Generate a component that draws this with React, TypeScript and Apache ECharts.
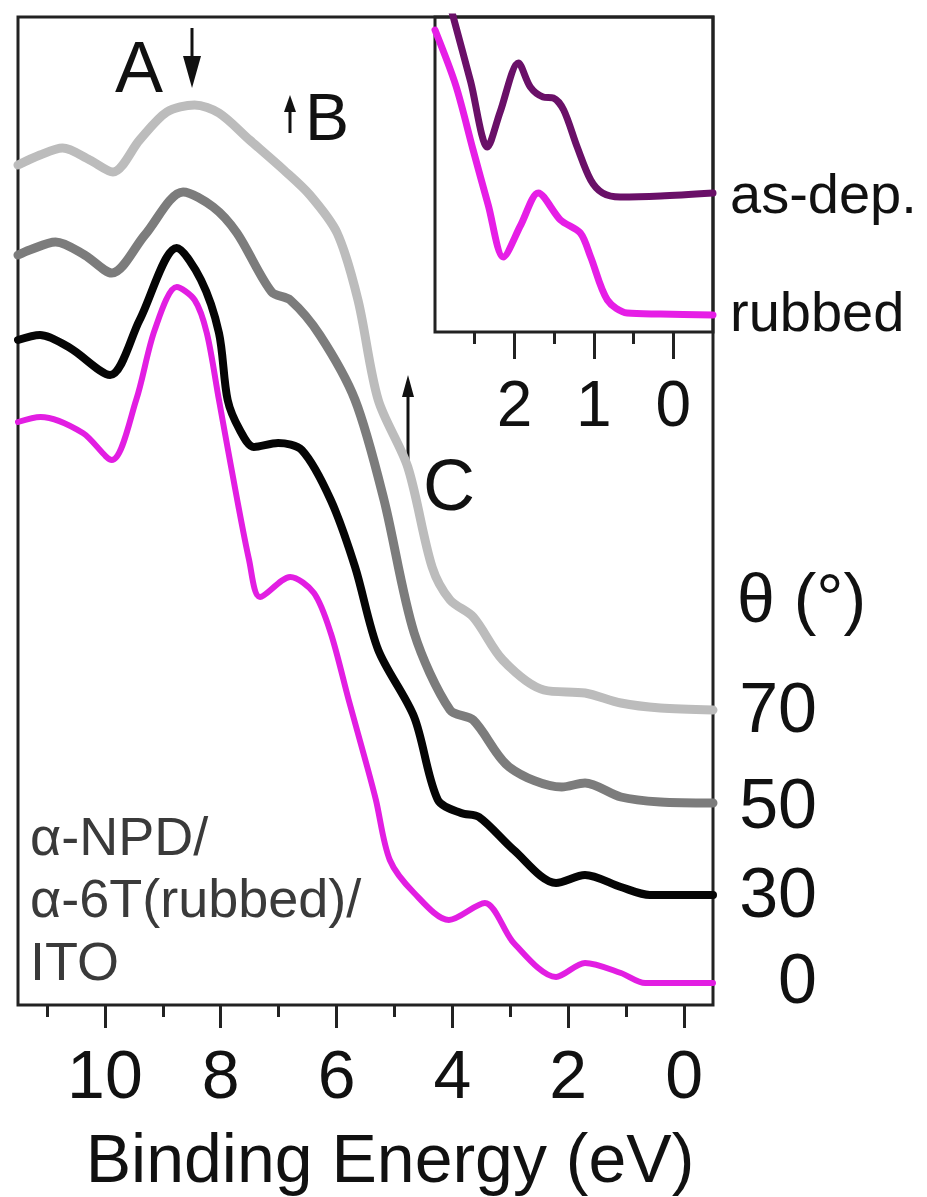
import React, { useEffect, useRef } from "react";
import * as echarts from "echarts";

// Main panel: binding energy (eV) vs. intensity (a.u., offset curves)
const theta70: [number, number][] = [
  [11.5, 84.0], [11.12, 85.0], [10.73, 85.7], [10.26, 84.5], [9.86, 83.3], [9.4, 86.5],
  [8.93, 89.3], [8.45, 90.0], [8.03, 89.2], [7.5, 86.5], [6.91, 83.5], [6.46, 81.0],
  [5.99, 77.2], [5.63, 70.5], [5.28, 60.5], [4.77, 53.8], [4.35, 43.8], [4.04, 40.5],
  [3.64, 38.8], [3.13, 34.5], [2.42, 31.5], [1.71, 31.2], [1.09, 30.2], [0.41, 29.7], [-0.5, 29.5],
];
const theta50: [number, number][] = [
  [11.5, 75.0], [11.3, 75.5], [10.85, 76.3], [10.35, 75.0], [9.88, 73.2], [9.31, 77.0],
  [8.65, 81.3], [8.13, 79.8], [7.72, 77.2], [7.12, 71.3], [6.8, 70.5], [6.29, 67.0],
  [5.68, 60.5], [5.18, 50.5], [4.66, 37.2], [4.04, 29.5], [3.64, 28.5], [3.02, 23.8],
  [2.11, 21.8], [1.71, 22.2], [1.09, 20.8], [0.41, 20.3], [-0.5, 20.2],
];
const theta30: [number, number][] = [
  [11.5, 66.5], [11.12, 67.0], [10.6, 65.7], [9.91, 63.0], [9.4, 68.5], [8.76, 75.7],
  [8.34, 72.5], [8.03, 67.2], [7.88, 60.5], [7.67, 57.5], [7.43, 55.8], [7.01, 56.2],
  [6.6, 55.5], [6.1, 50.5], [5.68, 43.8], [5.28, 35.5], [4.66, 28.8], [4.25, 20.5],
  [3.85, 19.2], [3.54, 18.8], [2.94, 15.5], [2.21, 12.2], [1.71, 13.0], [1.09, 11.8],
  [0.59, 11.0], [-0.5, 11.0],
];
const theta0: [number, number][] = [
  [11.5, 58.3], [11.11, 58.8], [10.38, 57.2], [9.88, 54.5], [9.46, 60.5], [9.14, 67.5],
  [8.76, 71.8], [8.45, 70.5], [8.24, 67.2], [8.03, 60.5], [7.82, 53.8], [7.51, 44.5],
  [7.32, 40.8], [6.8, 42.8], [6.39, 41.2], [6.1, 37.2], [5.79, 30.5], [5.47, 23.8],
  [5.32, 20.5], [5.08, 14.5], [4.66, 11.2], [4.06, 8.5], [3.44, 10.2], [2.94, 6.2],
  [2.21, 2.8], [1.71, 4.2], [1.09, 3.2], [0.67, 2.2], [-0.5, 2.2],
];

// Inset: near-Fermi-level region
const insetAsDep: [number, number][] = [
  [3.0, 38.4], [2.77, 31.5], [2.55, 25.0], [2.34, 18.5], [2.18, 22.0], [1.95, 26.9],
  [1.8, 24.5], [1.64, 23.5], [1.51, 23.4], [1.38, 22.2], [1.21, 18.5], [1.04, 15.2],
  [0.89, 13.9], [0.67, 13.5], [0.16, 13.6], [-0.5, 13.9],
];
const insetRubbed: [number, number][] = [
  [3.0, 30.2], [2.74, 24.7], [2.52, 18.2], [2.33, 12.7], [2.14, 7.5], [1.92, 10.7],
  [1.7, 13.9], [1.42, 11.2], [1.17, 9.9], [1.04, 7.5], [0.83, 3.2], [0.58, 1.9],
  [0.16, 1.8], [-0.5, 1.7],
];

const mainMajorTicks = [0, 2, 4, 6, 8, 10];
const mainMinorTicks = [1, 3, 5, 7, 9, 11];
const insetMajorTicks = [0, 1, 2];
const insetMinorTicks = [0.5, 1.5, 2.5];
const thetaLabels = ["70", "50", "30", "0"];
const insetLabels = ["as-dep.", "rubbed"];

const FONT = '"Liberation Sans", Arial, Helvetica, sans-serif';
const AXIS = "#222";

function txt(text: string, x: number, y: number, size: number, align = "left", fill = "#111") {
  return {
    type: "text",
    x,
    y,
    silent: true,
    style: {
      text,
      fontSize: size,
      fontFamily: FONT,
      fill,
      align,
      textAlign: align,
      verticalAlign: "middle",
      textVerticalAlign: "middle",
    },
  };
}

function arrow(x: number, tipY: number, tailY: number, headW: number, headH: number) {
  const dir = tailY > tipY ? 1 : -1; // 1: pointing up
  const baseY = tipY + dir * headH;
  return [
    {
      type: "line",
      silent: true,
      shape: { x1: x, y1: baseY, x2: x, y2: tailY },
      style: { stroke: "#111", lineWidth: 3 },
    },
    {
      type: "polygon",
      silent: true,
      shape: { points: [[x - headW / 2, baseY], [x + headW / 2, baseY], [x, tipY]] },
      style: { fill: "#111" },
    },
  ];
}

export default function App() {
  const ref = useRef<HTMLDivElement>(null);
  useEffect(() => {
    if (!ref.current) return;
    const chart = echarts.init(ref.current, null, { renderer: "svg" });
    const lineSeries = (data: [number, number][], color: string, width: number, xi: number, yi: number) => ({
      type: "line",
      data,
      xAxisIndex: xi,
      yAxisIndex: yi,
      showSymbol: false,
      symbol: "none",
      smooth: 0.3,
      clip: true,
      lineStyle: { color, width, cap: "round", join: "round" },
      itemStyle: { color },
      silent: true,
    });
    const tickAxis = (
      gridIndex: number,
      min: number,
      max: number,
      ticks: number[],
      len: number,
      labels: boolean,
      fontSize: number,
      margin: number
    ) => ({
      type: "value",
      gridIndex,
      position: "bottom",
      min,
      max,
      inverse: true,
      axisLine: { show: false },
      splitLine: { show: false },
      axisTick: { show: true, customValues: ticks, length: len, inside: false, lineStyle: { color: AXIS, width: 3 } },
      axisLabel: {
        show: labels,
        customValues: ticks,
        fontSize,
        fontFamily: FONT,
        color: "#111",
        margin,
      },
    });
    chart.setOption({
      animation: false,
      backgroundColor: "#fff",
      grid: [
        { left: 18, top: 17, width: 695, height: 988, show: true, borderColor: AXIS, borderWidth: 3, backgroundColor: "transparent" },
        { left: 435, top: 17, width: 278, height: 315, show: true, borderColor: AXIS, borderWidth: 3, backgroundColor: "transparent" },
      ],
      xAxis: [
        tickAxis(0, -0.5, 11.5, mainMajorTicks, 23, true, 68, 35),
        tickAxis(0, -0.5, 11.5, mainMinorTicks, 12, false, 68, 35),
        tickAxis(1, -0.5, 3, insetMajorTicks, 27, true, 64, 40),
        tickAxis(1, -0.5, 3, insetMinorTicks, 12, false, 64, 40),
      ],
      yAxis: [
        { type: "value", gridIndex: 0, min: 0, max: 98.8, show: false },
        { type: "value", gridIndex: 1, min: 0, max: 31.5, show: false },
      ],
      series: [
        lineSeries(theta70, "#bcbcbc", 9, 0, 0),
        lineSeries(theta50, "#7c7c7c", 9, 0, 0),
        lineSeries(theta30, "#050505", 8, 0, 0),
        lineSeries(theta0, "#e21ee2", 6, 0, 0),
        lineSeries(insetAsDep, "#6a1068", 7, 2, 1),
        lineSeries(insetRubbed, "#e61ee6", 7, 2, 1),
      ],
      graphic: [
        txt("A", 115, 67, 72),
        txt("B", 305, 117, 66),
        txt("C", 423, 485, 72),
        ...arrow(192, 88, 28, 18, 32),
        ...arrow(290, 95, 133, 12, 17),
        ...arrow(408, 375, 460, 12, 22),
        txt("θ (°)", 737, 598, 68),
        txt(thetaLabels[0], 817, 708, 70, "right"),
        txt(thetaLabels[1], 817, 804, 70, "right"),
        txt(thetaLabels[2], 817, 893, 70, "right"),
        txt(thetaLabels[3], 817, 979, 70, "right"),
        txt(insetLabels[0], 730, 193, 56),
        txt(insetLabels[1], 730, 311, 56),
        txt("α-NPD/", 30, 836, 54, "left", "#3a3a3a"),
        txt("α-6T(rubbed)/", 30, 898, 54, "left", "#3a3a3a"),
        txt("ITO", 30, 961, 54, "left", "#3a3a3a"),
        txt("Binding Energy (eV)", 390, 1158, 68, "center"),
      ],
    });
    return () => chart.dispose();
  }, []);
  return (
    <div
      ref={ref}
      style={{ position: "fixed", left: 0, top: 0, width: 927, height: 1197, background: "#fff" }}
    />
  );
}
